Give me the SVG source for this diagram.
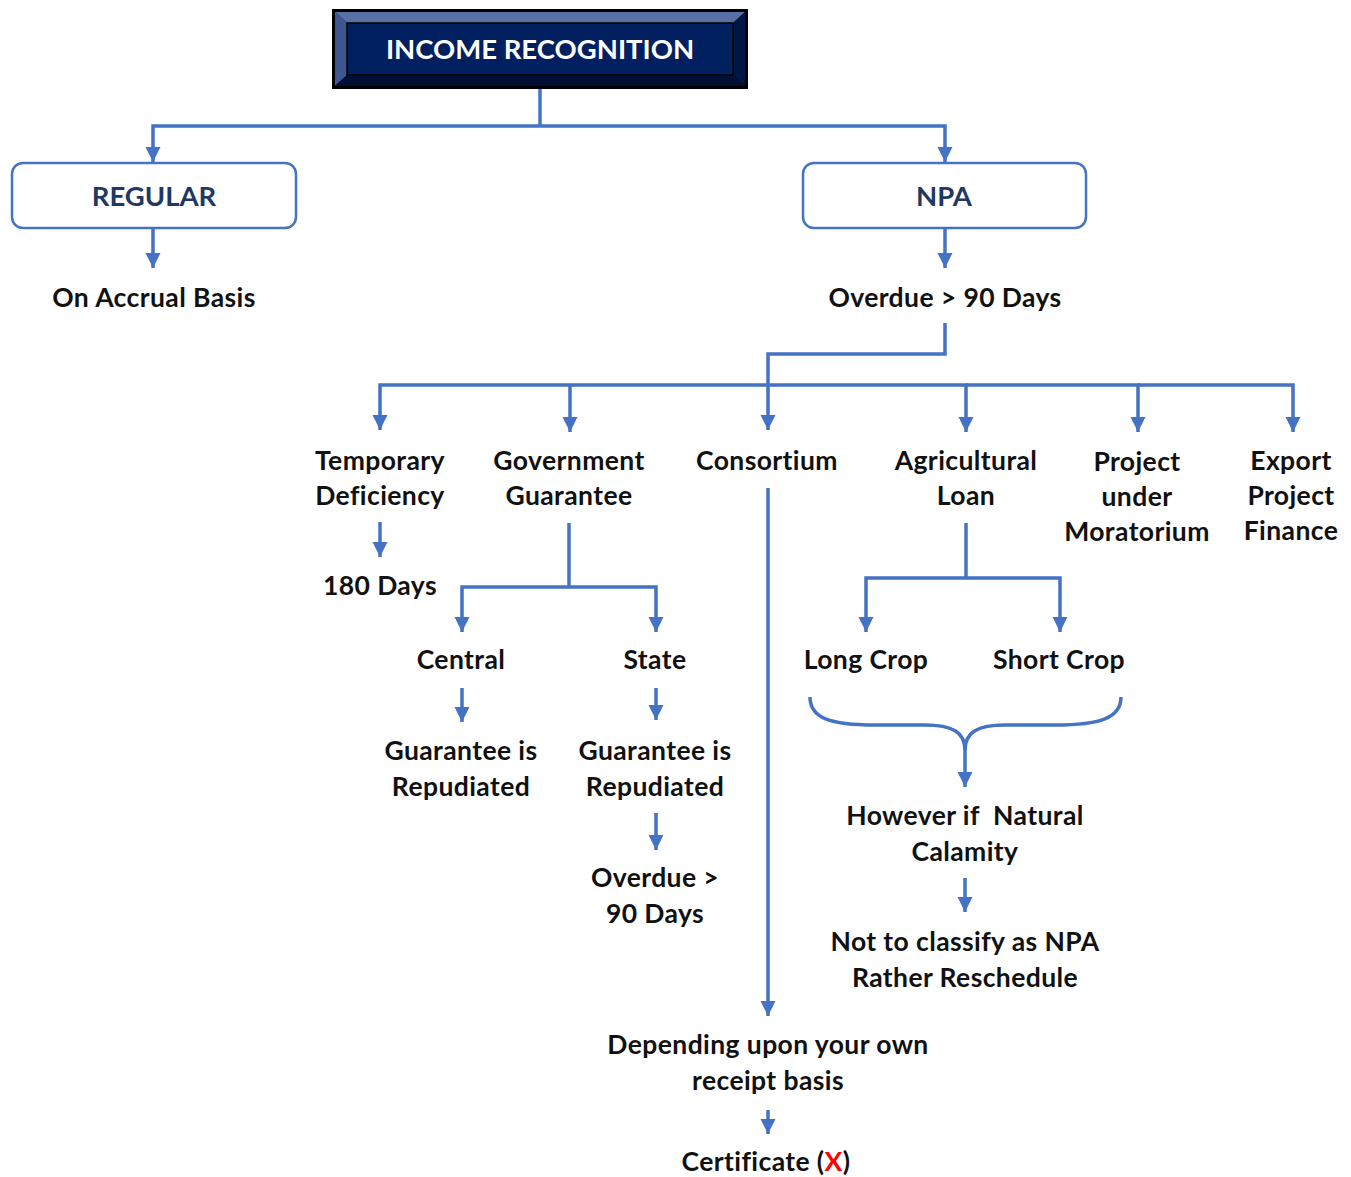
<svg xmlns="http://www.w3.org/2000/svg" width="1351" height="1177" viewBox="0 0 1351 1177">
<defs>
<marker id="arr" markerUnits="userSpaceOnUse" markerWidth="16" markerHeight="16" viewBox="0 0 16 16" refX="15" refY="8" orient="auto">
<path d="M0,0.5 L15,8 L0,15.5 Z" fill="#4472C4"/>
</marker>
</defs>
<style>
.c{fill:none;stroke:#4472C4;stroke-width:3.5}
.a{marker-end:url(#arr)}
.t{font-family:Lato,"Liberation Sans",sans-serif;font-weight:bold;font-size:26.5px;letter-spacing:0.4px;fill:#111;text-anchor:middle}
.h{font-family:Lato,"Liberation Sans",sans-serif;font-weight:bold;font-size:27.5px;text-anchor:middle}
.box{fill:#fff;stroke:#4472C4;stroke-width:2.5}
</style>
<rect width="1351" height="1177" fill="#fff"/>
<g id="title">
<rect x="332" y="9" width="416" height="80" fill="#000"/>
<polygon points="335,12 745,12 733,23 347,23" fill="#5870A6"/>
<polygon points="335,12 347,23 347,75 335,86" fill="#3F5791"/>
<polygon points="745,12 745,86 733,75 733,23" fill="#001644"/>
<polygon points="335,86 347,75 733,75 745,86" fill="#000F33"/>
<rect x="347" y="23" width="386" height="52" fill="#002060" stroke="#000" stroke-width="1.5"/>
<text class="h" x="540" y="59" fill="#fff">INCOME RECOGNITION</text>
</g>
<g id="connectors">
<path class="c" d="M540,89 V126"/>
<path class="c a" d="M540,126 H153 V162"/>
<path class="c a" d="M540,126 H945 V162"/>
<path class="c a" d="M153,229 V268"/>
<path class="c a" d="M945,229 V268"/>
<path class="c a" d="M945,323 V354 H768 V430"/>
<path class="c a" d="M768,385 H380 V430"/>
<path class="c a" d="M570,385 V432"/>
<path class="c a" d="M768,385 H966 V432"/>
<path class="c a" d="M966,385 H1138 V432"/>
<path class="c a" d="M1138,385 H1293 V432"/>
<path class="c a" d="M380,522 V557"/>
<path class="c" d="M569,523 V587"/>
<path class="c a" d="M569,587 H462 V632"/>
<path class="c a" d="M569,587 H656 V632"/>
<path class="c a" d="M462,688 V722"/>
<path class="c a" d="M656,688 V720"/>
<path class="c a" d="M656,813 V850"/>
<path class="c a" d="M768,488 V1016"/>
<path class="c a" d="M768,1110 V1134"/>
<path class="c" d="M966,523 V578"/>
<path class="c a" d="M966,578 H866 V632"/>
<path class="c a" d="M966,578 H1060 V632"/>
<path class="c" d="M810,697 C810,718 830,725 875,725 L925,725 C952,725 965,732 965,750 C965,732 978,725 1005,725 L1055,725 C1100,725 1121,718 1121,697"/>
<path class="c a" d="M965,748 V787"/>
<path class="c a" d="M965,878 V912"/>
</g>
<g id="regular">
<rect class="box" x="12" y="163" width="284" height="65" rx="11"/>
<text class="h" x="154" y="206" fill="#1F3864">REGULAR</text>
</g>
<g id="npa">
<rect class="box" x="803" y="163" width="283" height="65" rx="11"/>
<text class="h" x="944" y="206" fill="#1F3864">NPA</text>
</g>
<g id="accrual"><text class="t" x="154" y="307">On Accrual Basis</text></g>
<g id="overdue"><text class="t" x="945" y="307">Overdue &gt; 90 Days</text></g>
<g id="temporary"><text class="t" x="380" y="470">Temporary</text><text class="t" x="380" y="505">Deficiency</text></g>
<g id="days180"><text class="t" x="380" y="595">180 Days</text></g>
<g id="government"><text class="t" x="569" y="470">Government</text><text class="t" x="569" y="505">Guarantee</text></g>
<g id="central"><text class="t" x="461" y="669">Central</text></g>
<g id="state"><text class="t" x="655" y="669">State</text></g>
<g id="central-rep"><text class="t" x="461" y="760">Guarantee is</text><text class="t" x="461" y="796">Repudiated</text></g>
<g id="state-rep"><text class="t" x="655" y="760">Guarantee is</text><text class="t" x="655" y="796">Repudiated</text></g>
<g id="state-overdue"><text class="t" x="655" y="887">Overdue &gt;</text><text class="t" x="655" y="923">90 Days</text></g>
<g id="consortium"><text class="t" x="767" y="470">Consortium</text></g>
<g id="depending"><text class="t" x="768" y="1054">Depending upon your own</text><text class="t" x="768" y="1090">receipt basis</text></g>
<g id="certificate"><text class="t" x="766" y="1171">Certificate (<tspan fill="#FF0000">X</tspan>)</text></g>
<g id="agricultural"><text class="t" x="966" y="470">Agricultural</text><text class="t" x="966" y="505">Loan</text></g>
<g id="longcrop"><text class="t" x="866" y="669">Long Crop</text></g>
<g id="shortcrop"><text class="t" x="1059" y="669">Short Crop</text></g>
<g id="calamity"><text class="t" x="965" y="825">However if&#160; Natural</text><text class="t" x="965" y="861">Calamity</text></g>
<g id="reschedule"><text class="t" x="965" y="951">Not to classify as NPA</text><text class="t" x="965" y="987">Rather Reschedule</text></g>
<g id="moratorium"><text class="t" x="1137" y="471">Project</text><text class="t" x="1137" y="506">under</text><text class="t" x="1137" y="541">Moratorium</text></g>
<g id="export"><text class="t" x="1291" y="470">Export</text><text class="t" x="1291" y="505">Project</text><text class="t" x="1291" y="540">Finance</text></g>
</svg>
